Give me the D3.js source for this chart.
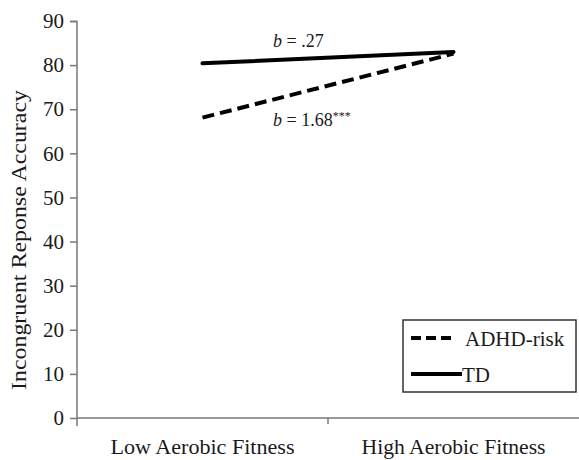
<!DOCTYPE html>
<html><head><meta charset="utf-8">
<script src="https://cdn.jsdelivr.net/npm/d3@7"></script>
<style>
body{margin:0;background:#fff;}
svg text{font-family:"Liberation Serif","Times New Roman",serif;fill:#1a1a1a;}
</style></head>
<body><svg id="c" width="579" height="460"></svg>
<script>
const categories = ["Low Aerobic Fitness", "High Aerobic Fitness"];
const adhdRisk = [68.1, 82.6];
const td = [80.4, 83.0];
const yTicks = [0, 10, 20, 30, 40, 50, 60, 70, 80, 90];
const seriesNames = ["ADHD-risk", "TD"];
const slopeLabels = ["b = .27", "b = 1.68***"];

const SERIF = '"Liberation Serif","Times New Roman",serif';
const svg = d3.select("#c");
const x = d3.scaleBand().domain(categories).range([77, 579]).padding(0);
const y = d3.scaleLinear().domain([0, 90]).range([418, 21]);

// y axis
const gy = svg.append("g").attr("transform", "translate(77,0)")
  .call(d3.axisLeft(y).tickValues(yTicks).tickSize(7).tickPadding(6));
gy.attr("font-family", SERIF);
gy.select(".domain").attr("stroke", "#777").attr("stroke-width", 1.5).attr("d", "M-7,21.5H0V426");
gy.selectAll(".tick line").attr("stroke", "#777").attr("stroke-width", 1.5);
gy.selectAll(".tick text").style("font-family", SERIF).style("font-size", "21px").attr("fill", "#1a1a1a");

// x axis
const gx = svg.append("g").attr("transform", "translate(0,418)")
  .call(d3.axisBottom(x).tickSize(0).tickPadding(0));
gx.select(".domain").attr("stroke", "#777").attr("stroke-width", 1.5).attr("d", "M77,0H579");
gx.selectAll(".tick text").remove();
gx.selectAll(".tick line").remove();
svg.append("line").attr("x1", x(categories[1])).attr("x2", x(categories[1]))
  .attr("y1", 418).attr("y2", 424).attr("stroke", "#777").attr("stroke-width", 1.5);
categories.forEach(c => {
  svg.append("text").attr("x", x(c) + x.bandwidth() / 2).attr("y", 454)
    .attr("text-anchor", "middle").style("font-size", "21px")
    .attr("textLength", 184).attr("lengthAdjust", "spacingAndGlyphs").text(c);
});

// y title
svg.append("text").attr("transform", "translate(26,240) rotate(-90)")
  .attr("text-anchor", "middle").style("font-size", "20px")
  .attr("textLength", 300).attr("lengthAdjust", "spacingAndGlyphs")
  .text("Incongruent Reponse Accuracy");

// lines
const line = d3.line().x((d, i) => x(categories[i]) + x.bandwidth() / 2).y(d => y(d));
svg.append("path").datum(td).attr("d", line).attr("fill", "none")
  .attr("stroke", "#000").attr("stroke-width", 4).attr("stroke-linecap", "round");
svg.append("path").datum(adhdRisk).attr("d", line).attr("fill", "none")
  .attr("stroke", "#000").attr("stroke-width", 4).attr("stroke-dasharray", "12,6");

// slope labels
const midX = x(categories[1]);
function slopeLabel(txt, yv) {
  const t = svg.append("text").attr("x", midX - 55).attr("y", y(yv)).style("font-size", "18px");
  const parts = txt.match(/^b( = [0-9.]+)(\**)$/);
  t.append("tspan").style("font-style", "italic").text("b");
  t.append("tspan").text(parts[1]);
  if (parts[2]) t.append("tspan").attr("dy", -6).style("font-size", "12px").text(parts[2]);
}
slopeLabel(slopeLabels[0], 84.2);
slopeLabel(slopeLabels[1], 66.1);

// legend
const lg = svg.append("g");
lg.append("rect").attr("x", 403).attr("y", 320).attr("width", 173).attr("height", 72)
  .attr("fill", "#fff").attr("stroke", "#333").attr("stroke-width", 1.5);
lg.append("line").attr("x1", 411).attr("x2", 456).attr("y1", 338).attr("y2", 338)
  .attr("stroke", "#000").attr("stroke-width", 4).attr("stroke-dasharray", "10,5");
lg.append("text").attr("x", 465).attr("y", 346).style("font-size", "21px").text(seriesNames[0]);
lg.append("line").attr("x1", 411).attr("x2", 462).attr("y1", 374).attr("y2", 374)
  .attr("stroke", "#000").attr("stroke-width", 4);
lg.append("text").attr("x", 462).attr("y", 382).style("font-size", "21px").text(seriesNames[1]);
</script></body></html>
